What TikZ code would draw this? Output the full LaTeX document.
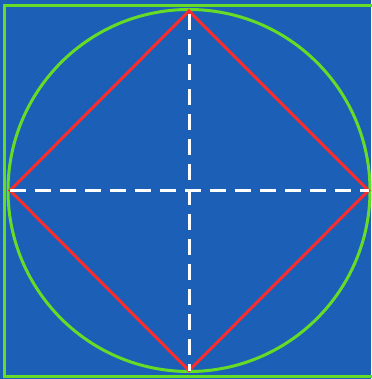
\documentclass[tikz,border=0pt]{standalone}
\usepackage{tikz}
\usetikzlibrary{calc}
\definecolor{bgblue}{RGB}{27,96,182}
\definecolor{rimgreen}{RGB}{102,220,38}
\definecolor{diared}{RGB}{250,45,45}
\tikzset{
  rim/.style={rimgreen, line width=3pt},
  diag/.style={diared, line width=3pt, line join=miter},
  axis/.style={white, line width=3pt, dash pattern=on 16pt off 9pt}
}
\begin{document}
\begin{tikzpicture}[x=1pt, y=-1pt]
  \fill[bgblue] (0,0) rectangle (371,379);
  \useasboundingbox (0,0) rectangle (371,379);
  % square and circle
  \draw[rim] (4.5,6) rectangle (375,376.5);
  \coordinate (c) at (189,190.5);
  \draw[rim] (c) circle (181);
  % vertices of the inscribed square
  \coordinate (t) at (189,11);
  \coordinate (l) at (10,190.5);
  \coordinate (r) at (368.5,190.5);
  \coordinate (b) at (189,370.5);
  \draw[diag] (t) -- (r) -- (b) -- (l) -- cycle;
  \draw[axis] (l) -- (r);
  \draw[axis, dash phase=-3pt] (t) -- (b);
\end{tikzpicture}
\end{document}
